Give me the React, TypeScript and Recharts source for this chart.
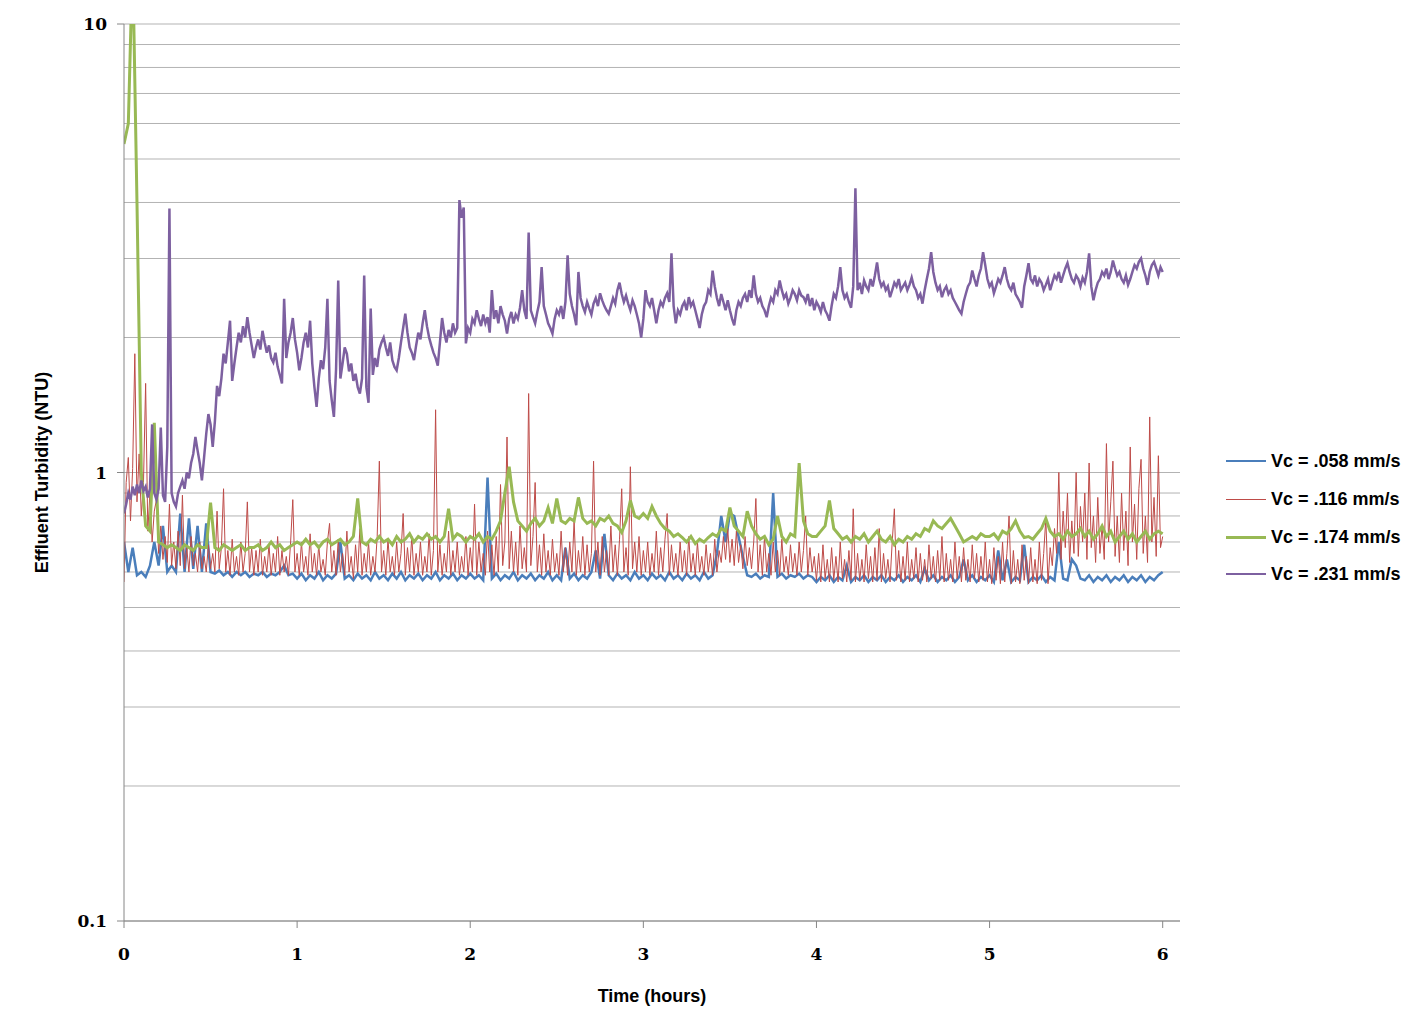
import React from 'react';
import { LineChart, Line, XAxis, YAxis, CartesianGrid } from 'recharts';

// logger sample intervals (hours)
const STEP_COARSE = 0.025;
const STEP_FINE = 0.0125;

// Vc = .058 mm/s, one value per 0.025 h
const blue058 = [
  0.70, 0.60, 0.68, 0.59, 0.60, 0.585, 0.62, 0.70, 0.62, 0.76,
  0.60, 0.62, 0.60, 0.81, 0.60, 0.79, 0.61, 0.76, 0.60, 0.77,
  0.60, 0.595, 0.605, 0.59, 0.60, 0.585, 0.60, 0.59, 0.60, 0.585,
  0.595, 0.59, 0.60, 0.585, 0.595, 0.59, 0.60, 0.62, 0.59, 0.595,
  0.58, 0.595, 0.575, 0.59, 0.58, 0.60, 0.575, 0.59, 0.58, 0.595,
  0.70, 0.58, 0.59, 0.575, 0.595, 0.58, 0.59, 0.575, 0.60, 0.58,
  0.59, 0.575, 0.595, 0.58, 0.60, 0.575, 0.59, 0.58, 0.595, 0.575,
  0.59, 0.58, 0.60, 0.575, 0.59, 0.58, 0.595, 0.575, 0.59, 0.58,
  0.595, 0.58, 0.59, 0.575, 0.975, 0.58, 0.595, 0.575, 0.59, 0.58,
  0.60, 0.575, 0.59, 0.58, 0.595, 0.575, 0.59, 0.58, 0.60, 0.575,
  0.59, 0.575, 0.68, 0.58, 0.595, 0.575, 0.59, 0.58, 0.60, 0.67,
  0.58, 0.73, 0.59, 0.575, 0.595, 0.58, 0.59, 0.575, 0.60, 0.58,
  0.59, 0.575, 0.595, 0.58, 0.59, 0.575, 0.60, 0.58, 0.59, 0.575,
  0.595, 0.58, 0.59, 0.575, 0.60, 0.58, 0.59, 0.66, 0.80, 0.70,
  0.81, 0.80, 0.72, 0.65, 0.59, 0.585, 0.595, 0.58, 0.59, 0.585,
  0.90, 0.585, 0.595, 0.58, 0.59, 0.585, 0.595, 0.58, 0.59, 0.585,
  0.57, 0.585, 0.575, 0.59, 0.57, 0.585, 0.575, 0.62, 0.57, 0.585,
  0.575, 0.59, 0.57, 0.585, 0.575, 0.59, 0.57, 0.585, 0.575, 0.59,
  0.57, 0.585, 0.575, 0.59, 0.57, 0.61, 0.575, 0.59, 0.57, 0.585,
  0.575, 0.59, 0.57, 0.585, 0.64, 0.575, 0.59, 0.57, 0.585, 0.575,
  0.59, 0.57, 0.67, 0.575, 0.64, 0.57, 0.585, 0.575, 0.69, 0.57,
  0.585, 0.575, 0.59, 0.57, 0.585, 0.575, 0.70, 0.58, 0.575, 0.64,
  0.62, 0.58, 0.575, 0.59, 0.57, 0.585, 0.575, 0.59, 0.57, 0.585,
  0.575, 0.59, 0.57, 0.585, 0.575, 0.59, 0.57, 0.585, 0.575, 0.59, 0.60,
];

// Vc = .116 mm/s, one value per 0.0125 h
const red116 = [
  0.57, 0.95, 1.08, 0.78, 1.02, 1.84, 0.86, 1.10, 0.80, 0.95, 1.58, 0.74, 0.90, 0.70, 0.82, 0.87, 0.66, 0.76, 0.64, 0.72,
  0.63, 0.85, 0.62, 0.70, 0.61, 0.74, 0.62, 0.89, 0.61, 0.68, 0.60, 0.72, 0.62, 0.66, 0.60, 0.70, 0.61, 0.65, 0.60, 0.69,
  0.61, 0.66, 0.60, 0.82, 0.61, 0.68, 0.92, 0.60, 0.67, 0.59, 0.71, 0.60, 0.65, 0.59, 0.70, 0.60, 0.66, 0.86, 0.60, 0.68,
  0.59, 0.67, 0.60, 0.71, 0.59, 0.65, 0.60, 0.69, 0.59, 0.66, 0.60, 0.72, 0.59, 0.67, 0.60, 0.65, 0.59, 0.70, 0.87, 0.60,
  0.66, 0.59, 0.70, 0.60, 0.65, 0.59, 0.73, 0.60, 0.66, 0.59, 0.69, 0.60, 0.64, 0.59, 0.70, 0.77, 0.60, 0.67, 0.59, 0.71,
  0.60, 0.66, 0.59, 0.74, 0.60, 0.65, 0.58, 0.69, 0.60, 0.75, 0.59, 0.66, 0.60, 0.70, 0.59, 0.65, 0.60, 0.72, 1.06, 0.60,
  0.67, 0.59, 0.71, 0.60, 0.65, 0.59, 0.70, 0.60, 0.66, 0.81, 0.59, 0.68, 0.60, 0.72, 0.59, 0.66, 0.60, 0.70, 0.59, 0.65,
  0.60, 0.73, 0.59, 0.67, 1.38, 0.60, 0.69, 0.59, 0.66, 0.60, 0.74, 0.59, 0.67, 0.60, 0.70, 0.59, 0.65, 0.60, 0.72, 0.59,
  0.68, 0.60, 0.85, 0.59, 0.70, 0.60, 0.66, 0.59, 0.74, 0.60, 0.69, 0.59, 0.72, 0.60, 0.94, 0.62, 0.70, 1.20, 0.61, 0.74,
  0.60, 0.70, 0.59, 0.76, 0.61, 0.68, 0.60, 1.50, 0.62, 0.72, 0.95, 0.60, 0.69, 0.59, 0.73, 0.60, 0.67, 0.59, 0.71, 0.60,
  0.66, 0.59, 0.74, 0.60, 0.68, 0.59, 0.70, 0.60, 0.78, 0.59, 0.67, 0.60, 0.72, 0.59, 0.69, 0.60, 0.66, 1.06, 0.60, 0.70,
  0.59, 0.72, 0.60, 0.67, 0.59, 0.76, 0.60, 0.69, 0.59, 0.71, 0.92, 0.60, 0.68, 0.59, 1.03, 0.61, 0.70, 0.60, 0.72, 0.59,
  0.67, 0.60, 0.70, 0.59, 0.66, 0.60, 0.74, 0.59, 0.68, 0.60, 0.71, 0.81, 0.59, 0.69, 0.60, 0.66, 0.59, 0.70, 0.60, 0.67,
  0.59, 0.72, 0.60, 0.66, 0.59, 0.70, 0.60, 0.65, 0.59, 0.69, 0.60, 0.66, 0.59, 0.71, 0.60, 0.67, 0.63, 0.72, 0.64, 0.75,
  0.63, 0.71, 0.62, 0.74, 0.63, 0.69, 0.61, 0.72, 0.62, 0.68, 0.61, 0.70, 0.875, 0.60, 0.69, 0.59, 0.72, 0.60, 0.66, 0.59,
  0.70, 0.60, 0.67, 0.59, 0.71, 0.60, 0.65, 0.59, 0.69, 0.60, 0.66, 0.59, 0.70, 0.60, 0.67, 0.80, 0.59, 0.68, 0.60, 0.65,
  0.575, 0.66, 0.57, 0.69, 0.58, 0.64, 0.57, 0.68, 0.575, 0.65, 0.57, 0.70, 0.58, 0.64, 0.57, 0.67, 0.575, 0.83, 0.57, 0.66,
  0.575, 0.64, 0.57, 0.69, 0.58, 0.65, 0.57, 0.68, 0.575, 0.75, 0.57, 0.66, 0.58, 0.64, 0.57, 0.70, 0.83, 0.575, 0.67, 0.57,
  0.65, 0.575, 0.70, 0.57, 0.64, 0.58, 0.68, 0.57, 0.66, 0.575, 0.64, 0.57, 0.69, 0.58, 0.65, 0.57, 0.67, 0.575, 0.72, 0.57,
  0.66, 0.575, 0.64, 0.57, 0.70, 0.58, 0.65, 0.57, 0.68, 0.575, 0.64, 0.57, 0.69, 0.58, 0.66, 0.57, 0.65, 0.575, 0.70, 0.57,
  0.64, 0.565, 0.68, 0.575, 0.65, 0.565, 0.70, 0.57, 0.66, 0.80, 0.565, 0.67, 0.57, 0.64, 0.565, 0.69, 0.575, 0.65, 0.565, 0.68,
  0.57, 0.64, 0.565, 0.70, 0.575, 0.66, 0.79, 0.565, 0.68, 0.62, 0.75, 0.66, 1.00, 0.64, 0.82, 0.68, 0.90, 0.63, 0.78, 0.66,
  1.00, 0.65, 0.84, 0.70, 0.90, 0.64, 1.05, 0.68, 0.80, 0.63, 0.88, 0.66, 0.76, 0.64, 1.16, 0.70, 0.86, 1.06, 0.65, 0.80,
  0.63, 0.90, 0.67, 0.82, 0.62, 1.14, 0.70, 0.85, 0.64, 0.92, 1.07, 0.66, 0.80, 0.63, 1.33, 0.70, 0.88, 0.65, 1.09, 0.68,
  0.72,
];

// Vc = .174 mm/s, one value per 0.025 h
const green174 = [
  5.4, 6.0, 14, 4.0, 1.0, 0.76, 0.74, 1.29, 0.70, 0.69,
  0.68, 0.69, 0.68, 0.67, 0.69, 0.68, 0.67, 0.69, 0.68, 0.68,
  0.857, 0.68, 0.67, 0.69, 0.68, 0.67, 0.68, 0.69, 0.67, 0.68,
  0.68, 0.69, 0.67, 0.68, 0.70, 0.68, 0.69, 0.67, 0.68, 0.69,
  0.70, 0.69, 0.71, 0.69, 0.70, 0.68, 0.70, 0.71, 0.69, 0.70,
  0.71, 0.69, 0.70, 0.72, 0.875, 0.70, 0.69, 0.71, 0.70, 0.72,
  0.70, 0.71, 0.69, 0.72, 0.70, 0.71, 0.73, 0.70, 0.72, 0.71,
  0.73, 0.71, 0.72, 0.70, 0.72, 0.83, 0.71, 0.73, 0.72, 0.70,
  0.72, 0.71, 0.73, 0.70, 0.72, 0.71, 0.74, 0.78, 0.90, 1.03,
  0.86, 0.78, 0.76, 0.74, 0.77, 0.79, 0.76, 0.78, 0.835, 0.77,
  0.875, 0.78, 0.77, 0.79, 0.78, 0.88, 0.79, 0.77, 0.78, 0.76,
  0.79, 0.78, 0.80, 0.77, 0.76, 0.735, 0.78, 0.866, 0.80, 0.79,
  0.81, 0.79, 0.84, 0.80, 0.77, 0.75, 0.74, 0.72, 0.73, 0.716,
  0.70, 0.72, 0.694, 0.71, 0.70, 0.716, 0.73, 0.72, 0.75, 0.74,
  0.835, 0.76, 0.74, 0.72, 0.82, 0.76, 0.73, 0.71, 0.72, 0.69,
  0.71, 0.80, 0.72, 0.70, 0.73, 0.72, 1.05, 0.78, 0.73, 0.72,
  0.72, 0.74, 0.76, 0.866, 0.75, 0.73, 0.71, 0.72, 0.70, 0.72,
  0.71, 0.73, 0.70, 0.72, 0.74, 0.71, 0.70, 0.72, 0.69, 0.71,
  0.70, 0.72, 0.71, 0.73, 0.72, 0.75, 0.74, 0.78, 0.76, 0.75,
  0.77, 0.79, 0.76, 0.73, 0.70, 0.71, 0.72, 0.71, 0.73, 0.72,
  0.72, 0.73, 0.71, 0.74, 0.73, 0.75, 0.78, 0.74, 0.716, 0.72,
  0.71, 0.73, 0.75, 0.79, 0.74, 0.72, 0.73, 0.71, 0.74, 0.72,
  0.73, 0.75, 0.72, 0.74, 0.71, 0.73, 0.76, 0.72, 0.74, 0.70,
  0.72, 0.74, 0.71, 0.73, 0.70, 0.72, 0.74, 0.71, 0.73, 0.74, 0.73,
];

// Vc = .231 mm/s, one value per 0.0125 h
const purple231 = [
  0.81, 0.85, 0.90, 0.87, 0.93, 0.89, 0.94, 0.90, 0.96, 0.91, 0.93, 0.88, 0.92, 1.28, 0.90, 0.87, 0.92, 1.26, 0.89, 0.86,
  1.14, 3.88, 0.90, 0.86, 0.84, 0.90, 0.93, 0.96, 0.92, 1.00, 0.97, 1.05, 1.10, 1.20, 1.12, 1.05, 0.96, 1.08, 1.22, 1.35,
  1.28, 1.14, 1.30, 1.56, 1.48, 1.62, 1.84, 1.75, 1.95, 2.18, 1.60, 1.75, 1.90, 2.05, 1.95, 2.12, 2.00, 2.22, 2.05, 1.92,
  1.80, 1.90, 1.98, 1.88, 2.07, 1.95, 1.85, 1.92, 1.80, 1.76, 1.85, 1.72, 1.65, 1.58, 2.44, 1.80, 1.95, 2.05, 2.21, 1.98,
  1.85, 1.69, 1.80, 1.95, 2.05, 1.90, 2.18, 1.75, 1.55, 1.40, 1.62, 1.78, 1.70, 1.90, 2.44, 1.60, 1.45, 1.33, 1.70, 2.68,
  1.62, 1.75, 1.90, 1.84, 1.68, 1.75, 1.60, 1.66, 1.55, 1.50, 1.62, 2.75, 1.55, 1.43, 2.32, 1.65, 1.80, 1.72, 1.88, 1.95,
  2.00, 1.90, 1.82, 1.95, 1.78, 1.72, 1.69, 1.80, 1.95, 2.10, 2.26, 2.05, 1.90, 1.85, 1.78, 1.92, 2.05, 1.98, 2.15, 2.30,
  2.12, 2.00, 1.92, 1.85, 1.80, 1.73, 1.95, 2.21, 2.05, 1.95, 2.08, 2.00, 2.15, 2.05, 2.10, 4.05, 3.70, 3.90, 1.94, 2.10,
  2.05, 2.20, 2.15, 2.30, 2.20, 2.12, 2.25, 2.15, 2.22, 2.05, 2.55, 2.20, 2.30, 2.15, 2.35, 2.25, 2.18, 2.04, 2.20, 2.28,
  2.15, 2.25, 2.20, 2.33, 2.55, 2.30, 2.20, 3.43, 2.30, 2.22, 2.15, 2.28, 2.40, 2.87, 2.35, 2.25, 2.15, 2.10, 2.04, 2.20,
  2.30, 2.25, 2.35, 2.20, 2.40, 3.05, 2.50, 2.35, 2.25, 2.13, 2.80, 2.45, 2.35, 2.28, 2.40, 2.32, 2.25, 2.38, 2.45, 2.35,
  2.51, 2.42, 2.35, 2.30, 2.26, 2.35, 2.45, 2.38, 2.55, 2.65, 2.50, 2.40, 2.48, 2.38, 2.30, 2.42, 2.35, 2.25, 2.15, 2.00,
  2.20, 2.55, 2.40, 2.35, 2.45, 2.30, 2.15, 2.30, 2.40, 2.35, 2.45, 2.51, 2.40, 3.08, 2.35, 2.15, 2.30, 2.25, 2.35, 2.40,
  2.30, 2.46, 2.35, 2.40, 2.30, 2.20, 2.10, 2.25, 2.35, 2.40, 2.55, 2.50, 2.82, 2.60, 2.45, 2.35, 2.50, 2.40, 2.30, 2.42,
  2.30, 2.20, 2.13, 2.30, 2.40, 2.35, 2.45, 2.50, 2.40, 2.55, 2.45, 2.75, 2.50, 2.40, 2.45, 2.35, 2.30, 2.22, 2.35, 2.45,
  2.40, 2.55, 2.50, 2.68, 2.55, 2.45, 2.50, 2.38, 2.45, 2.55, 2.50, 2.42, 2.55, 2.48, 2.46, 2.40, 2.50, 2.35, 2.45, 2.30,
  2.40, 2.35, 2.28, 2.40, 2.30, 2.25, 2.18, 2.35, 2.50, 2.45, 2.60, 2.87, 2.55, 2.45, 2.50, 2.40, 2.33, 2.60, 4.30, 2.55,
  2.65, 2.50, 2.68, 2.60, 2.55, 2.70, 2.60, 2.75, 2.94, 2.70, 2.60, 2.65, 2.55, 2.60, 2.46, 2.55, 2.65, 2.60, 2.70, 2.55,
  2.60, 2.65, 2.55, 2.62, 2.72, 2.60, 2.55, 2.45, 2.50, 2.38, 2.55, 2.70, 2.85, 3.10, 2.80, 2.65, 2.55, 2.60, 2.46, 2.55,
  2.60, 2.50, 2.55, 2.45, 2.40, 2.35, 2.30, 2.26, 2.40, 2.50, 2.60, 2.65, 2.82, 2.70, 2.60, 2.75, 2.85, 3.10, 2.90, 2.70,
  2.60, 2.65, 2.51, 2.60, 2.70, 2.65, 2.75, 2.87, 2.70, 2.60, 2.55, 2.65, 2.50, 2.45, 2.40, 2.33, 2.60, 2.75, 2.93, 2.70,
  2.65, 2.75, 2.60, 2.70, 2.65, 2.55, 2.62, 2.70, 2.55, 2.65, 2.75, 2.70, 2.80, 2.65, 2.75, 2.85, 2.93, 2.80, 2.70, 2.65,
  2.75, 2.70, 2.60, 2.72, 2.65, 2.80, 3.08, 2.60, 2.42, 2.55, 2.65, 2.70, 2.80, 2.75, 2.85, 2.70, 2.80, 2.97, 2.85, 2.75,
  2.80, 2.70, 2.65, 2.75, 2.62, 2.70, 2.80, 2.90, 2.85, 2.95, 3.00, 2.85, 2.75, 2.62, 2.80, 2.90, 2.95, 2.85, 2.75, 2.87,
  2.80,
];

const xTicks = [0, 1, 2, 3, 4, 5, 6];
const yGridValues = [
  0.1, 0.2, 0.3, 0.4, 0.5, 0.6, 0.7, 0.8, 0.9,
  1, 2, 3, 4, 5, 6, 7, 8, 9, 10,
];
const yLabelled = [0.1, 1, 10];

const toPoints = (values: number[], step: number) =>
  values.map((v, i) => ({ t: +(i * step).toFixed(4), v }));

const series = [
  { key: 'v058', name: 'Vc = .058 mm/s', color: '#4a7ebb', width: 2.5, data: toPoints(blue058, STEP_COARSE) },
  { key: 'v116', name: 'Vc = .116 mm/s', color: '#be4b48', width: 1, data: toPoints(red116, STEP_FINE) },
  { key: 'v174', name: 'Vc = .174 mm/s', color: '#98b954', width: 3, data: toPoints(green174, STEP_COARSE) },
  { key: 'v231', name: 'Vc = .231 mm/s', color: '#7d60a0', width: 2.5, data: toPoints(purple231, STEP_FINE) },
];

const AXIS_GREY = '#868686';
const GRID_GREY = '#b3b3b3';

const YTick = ({ x, y, payload }: any) => {
  if (!yLabelled.includes(payload.value)) return null;
  return (
    <g>
      <line x1={x + 10} x2={x + 17} y1={y} y2={y} stroke={AXIS_GREY} />
      <text
        x={x}
        y={y}
        dy="0.36em"
        textAnchor="end"
        fill="#000"
        fontSize={17}
        fontWeight="bold"
        fontFamily="'DejaVu Serif', serif"
      >
        {payload.value}
      </text>
    </g>
  );
};

const legendRows = [461, 499, 537, 574];

export default function App() {
  return (
    <div style={{ position: 'relative', width: 1416, height: 1019 }}>
      <LineChart
        width={1416}
        height={1019}
        margin={{ top: 16, right: 244, bottom: 0, left: 0 }}
      >
        <CartesianGrid vertical={false} stroke={GRID_GREY} />
        <XAxis
          dataKey="t"
          type="number"
          domain={[0, 6.1]}
          allowDataOverflow
          ticks={xTicks}
          height={106}
          tickSize={7}
          tickMargin={20}
          stroke={AXIS_GREY}
          tick={{ fill: '#000', fontSize: 17, fontWeight: 'bold', fontFamily: "'DejaVu Serif', serif" }}
          label={{
            value: 'Time (hours)',
            position: 'insideBottom',
            offset: 25,
            fill: '#000',
            fontSize: 18,
            fontWeight: 'bold',
            fontFamily: "'Liberation Sans', Arial, sans-serif",
          }}
        />
        <YAxis
          scale="log"
          domain={[0.1, 10]}
          allowDataOverflow
          ticks={yGridValues}
          interval={0}
          width={116}
          tickSize={7}
          tickMargin={10}
          tickLine={false}
          stroke={AXIS_GREY}
          tick={<YTick />}
          label={{
            value: 'Effluent Turbidity (NTU)',
            angle: -90,
            position: 'insideLeft',
            offset: 34,
            fill: '#000',
            fontSize: 18,
            fontWeight: 'bold',
            fontFamily: "'Liberation Sans', Arial, sans-serif",
            style: { textAnchor: 'middle' },
          }}
        />
        {series.map((s) => (
          <Line
            key={s.key}
            data={s.data}
            dataKey="v"
            name={s.name}
            type="linear"
            stroke={s.color}
            strokeWidth={s.width}
            dot={false}
            activeDot={false}
            isAnimationActive={false}
          />
        ))}
      </LineChart>

      {series.map((s, i) => (
        <div
          key={s.key}
          style={{
            position: 'absolute',
            left: 1218,
            top: legendRows[i] - 8 - 12,
            height: 24,
            display: 'flex',
            alignItems: 'center',
            whiteSpace: 'nowrap',
          }}
        >
          <div style={{ width: 40, height: s.width, background: s.color }} />
          <span
            style={{
              marginLeft: 5,
              fontFamily: "'Liberation Sans', Arial, sans-serif",
              fontWeight: 'bold',
              fontSize: 18,
              color: '#000',
            }}
          >
            {s.name}
          </span>
        </div>
      ))}
    </div>
  );
}
